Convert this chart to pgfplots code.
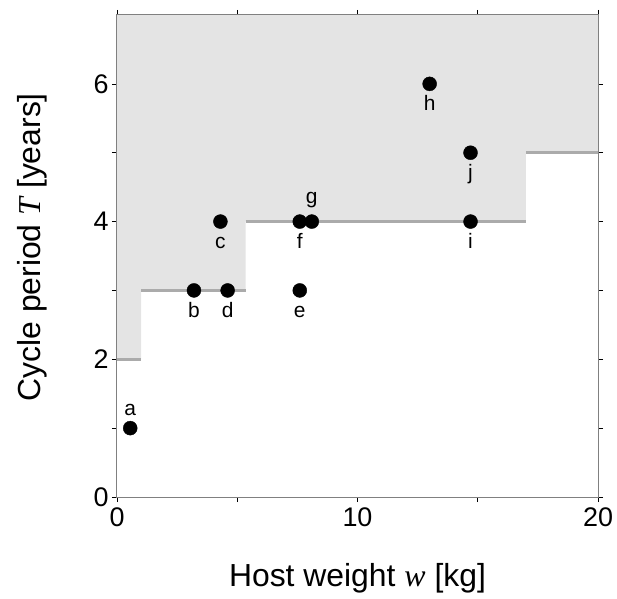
\documentclass[border=0pt]{standalone}
\usepackage{pgfplots}
\pgfplotsset{compat=1.18}
\usepackage{fontspec}
\setmainfont{Liberation Sans}
\newfontfamily\tnr{Liberation Serif}
\usetikzlibrary{calc}
\definecolor{shade}{HTML}{E4E4E4}
\definecolor{stepline}{HTML}{ABABAB}
\begin{document}
\begin{tikzpicture}
\begin{axis}[
  scale only axis, width=481bp, height=482bp,
  xmin=0, xmax=20, ymin=0, ymax=7,
  xtick={0,10,20}, minor xtick={5,15},
  ytick={0,2,4,6}, minor ytick={1,3,5},
  tick align=outside, major tick length=5bp, minor tick length=5bp,
  tick style={black, line width=0.6bp},
  axis line style={black!50, line width=1bp},
  axis on top,
  /pgf/number format/assume math mode=true,
  ticklabel style={font=\fontsize{27}{30}\selectfont},
  xticklabel style={yshift=-2bp},
  label style={font=\fontsize{32}{36}\selectfont, inner sep=0pt},
  xlabel={Host weight {\tnr\itshape w} [kg]},
  ylabel={Cycle period {\tnr\itshape T} [years]},
  xlabel style={at={(axis description cs:0.5,-0.137)}, anchor=north},
  ylabel style={at={(axis description cs:-0.145,0.518)}, anchor=south},
]
\addplot[fill=shade, draw=none] coordinates {(0,7) (0,2) (1,2) (1,3) (5.35,3) (5.35,4) (17,4) (17,5) (20,5) (20,7)} -- cycle;
\addplot[stepline, line width=3bp] coordinates {(0,2) (1,2)};
\addplot[stepline, line width=3bp] coordinates {(1,3) (5.35,3)};
\addplot[stepline, line width=3bp] coordinates {(5.35,4) (17,4)};
\addplot[stepline, line width=3bp] coordinates {(17,5) (20,5)};
\addplot[only marks, mark=*, mark size=7bp, black,
  nodes near coords, point meta=explicit symbolic,
  nodes near coords style={anchor=base, yshift=-27bp, font=\fontsize{21}{22}\selectfont, inner sep=0pt}]
  table[meta=lab] {
x y lab
3.2 3 b
4.3 4 c
4.6 3 d
7.6 3 e
7.6 4 f
13.0 6 h
14.7 4 i
14.7 5 j
};
\addplot[only marks, mark=*, mark size=7bp, black,
  nodes near coords, point meta=explicit symbolic,
  nodes near coords style={anchor=base, yshift=13bp, font=\fontsize{21}{22}\selectfont, inner sep=0pt}]
  table[meta=lab] {
x y lab
0.55 1 a
};
\addplot[only marks, mark=*, mark size=7bp, black,
  nodes near coords, point meta=explicit symbolic,
  nodes near coords style={anchor=base, yshift=18bp, font=\fontsize{21}{22}\selectfont, inner sep=0pt}]
  table[meta=lab] {
x y lab
8.1 4 g
};
\draw[black, line width=1bp] (rel axis cs:0,0) -- (rel axis cs:0,1);
\end{axis}
\pgfresetboundingbox
\path[use as bounding box] ($(current axis.south west)+(-117bp,-102bp)$) rectangle ($(current axis.north east)+(19bp,15bp)$);
\end{tikzpicture}
\end{document}
